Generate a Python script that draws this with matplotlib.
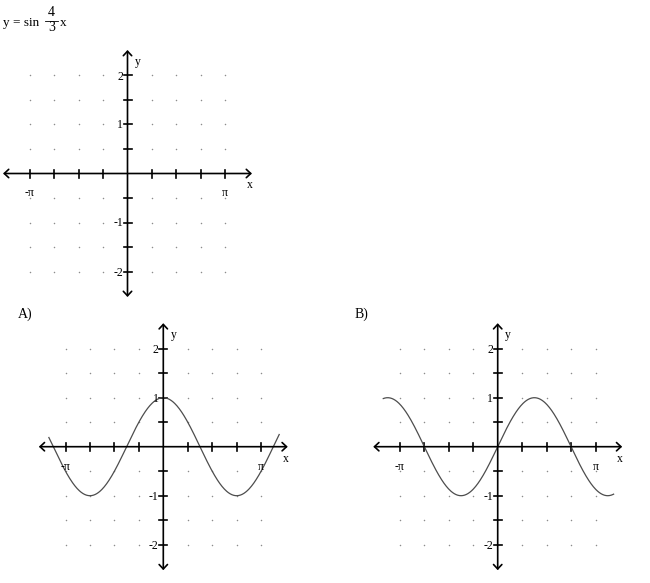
import numpy as np
import matplotlib
matplotlib.use("Agg")
import matplotlib.pyplot as plt

plt.rcParams['font.family'] = ['Liberation Serif', 'DejaVu Serif']

# ---- data ----
FREQ = 4 / 3                         # y = sin(4/3 x) in the title
X_GRID = np.array([-4, -3, -2, -1, 1, 2, 3, 4]) * np.pi / 4
Y_GRID = np.array([-2, -1.5, -1, -0.5, 0.5, 1, 1.5, 2])
X_TICK_LABELS = {-np.pi: "-\u03c0", np.pi: "\u03c0"}
Y_TICK_LABELS = {2: "2", 1: "1", -1: "-1", -2: "-2"}
CURVE_X = (-1.17 * np.pi, 1.185 * np.pi)   # where the drawn curves start/end
AX_X_END = 5.09 * np.pi / 4                # arrow tips
AX_Y_END = 2.52

# ---- layout (pixels) ----
W, H = 650, 583
PX_TICK_X = 24.45     # px per pi/4
PX_TICK_Y = 24.5      # px per 0.5
SPAN = 5.4            # ticks shown each side
PX_RAD = PX_TICK_X / (np.pi / 4)
PX_UNIT = PX_TICK_Y / 0.5

fig = plt.figure(figsize=(W / 100, H / 100), dpi=100)


def pt(px):
    return px * 0.72


def draw_panel(ox, oy, func=None):
    hx = SPAN * PX_TICK_X
    hy = SPAN * PX_TICK_Y
    ax = fig.add_axes([(ox - hx) / W, (H - oy - hy) / H, 2 * hx / W, 2 * hy / H])
    ax.set_xlim(-SPAN * np.pi / 4, SPAN * np.pi / 4)
    ax.set_ylim(-SPAN * 0.5, SPAN * 0.5)
    ax.axis("off")

    # gray grid dots
    gx, gy = np.meshgrid(X_GRID, Y_GRID)
    ax.scatter(gx.ravel(), gy.ravel(), s=1.2, c="0.55", lw=0, clip_on=False)

    # axes with arrow heads
    arrow = dict(arrowstyle="<->,head_length=0.32,head_width=0.3",
                 lw=1.2, color="k", shrinkA=0, shrinkB=0)
    ax.annotate("", xy=(AX_X_END, 0), xytext=(-AX_X_END, 0), arrowprops=arrow)
    ax.annotate("", xy=(0, AX_Y_END), xytext=(0, -AX_Y_END), arrowprops=arrow)

    # tick marks
    tx = 4 / PX_RAD
    ty = 4 / PX_UNIT
    for x in X_GRID:
        ax.plot([x, x], [-ty, ty], color="k", lw=1.2, clip_on=False)
    for y in Y_GRID:
        ax.plot([-tx, tx], [y, y], color="k", lw=1.2, clip_on=False)

    # tick labels
    for x, s in X_TICK_LABELS.items():
        ax.annotate(s, (x, 0), xytext=(0, pt(-20)), textcoords="offset points",
                    ha="center", va="center", fontsize=8.5)
    for y, s in Y_TICK_LABELS.items():
        ax.annotate(s, (0, y), xytext=(pt(-4.5), pt(-1)), textcoords="offset points",
                    ha="right", va="center", fontsize=8.5)
    ax.annotate("x", (0, 0), xytext=(pt(122.5), pt(-12)), textcoords="offset points",
                ha="center", va="center", fontsize=8.5)
    ax.annotate("y", (0, 0), xytext=(pt(10), pt(111.5)), textcoords="offset points",
                ha="center", va="center", fontsize=8.5)

    if func is not None:
        xs = np.linspace(CURVE_X[0], CURVE_X[1], 400)
        ax.plot(xs, func(FREQ * xs), color="0.3", lw=0.9, clip_on=False)
    return ax


# question graph and the two answer choices
draw_panel(127.5, 173.5)
draw_panel(163.3, 446.7, np.cos)
draw_panel(497.7, 446.7, np.sin)

# title  y = sin 4/3 x
fig.text(3 / W, 1 - 26 / H, "y = sin", fontsize=9.5, ha="left", va="baseline")
fig.text(51.5 / W, 1 - 12.7 / H, "4", fontsize=10, ha="center", va="center")
fig.text(51.5 / W, 1 - 27.5 / H, "3", fontsize=10, ha="center", va="center")
fig.add_artist(plt.Line2D([45 / W, 58 / W], [1 - 20.5 / H, 1 - 20.5 / H],
                          color="k", lw=0.6))
fig.text(59.5 / W, 1 - 26 / H, "x", fontsize=9.5, ha="left", va="baseline")

# answer labels
fig.text(18 / W, 1 - 314 / H, "A)", fontsize=10, ha="left", va="center")
fig.text(355 / W, 1 - 314 / H, "B)", fontsize=10, ha="left", va="center")

fig.savefig("out.png", dpi=100)
